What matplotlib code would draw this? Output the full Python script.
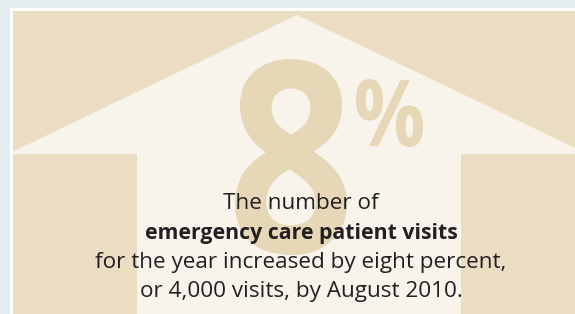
import matplotlib
matplotlib.use("Agg")
import matplotlib.pyplot as plt
from matplotlib.patches import Rectangle, Polygon, PathPatch
from matplotlib.textpath import TextPath
from matplotlib.font_manager import FontProperties
from matplotlib.transforms import Affine2D

# ---- content ----
big_value = "8"
big_unit = "%"
lines = ["The number of",
         "emergency care patient visits",
         "for the year increased by eight percent,",
         "or 4,000 visits, by August 2010."]
line_bold = [False, True, False, False]

# ---- layout (pixels, y down) ----
W, H = 575, 314
arrow_pts = [(297, 15), (588, 154), (461, 154), (461, 330),
             (137, 330), (137, 154), (8, 154)]
baselines = [209, 239, 268, 297]
text_cx = 301
value_box = (235, 59, 347, 255)   # x0, y0, x1, y1
unit_box = (356, 79, 423, 147)

bg = "#e3edf0"
tan = "#eaddc2"
cream = "#f8f4ec"
num_col = "#e6d7b6"
ink = "#231f20"

fig = plt.figure(figsize=(W / 100, H / 100), dpi=100, facecolor=bg)
ax = fig.add_axes([0, 0, 1, 1])
ax.set_xlim(0, W)
ax.set_ylim(H, 0)
ax.axis("off")

ax.add_patch(Rectangle((10, 8), W, H, facecolor="white", edgecolor="none"))
panel = Rectangle((12.5, 10.5), W, H, facecolor=tan, edgecolor="none")
ax.add_patch(panel)
arrow = Polygon(arrow_pts, closed=True, facecolor=cream, edgecolor="none")
ax.add_patch(arrow)
arrow.set_clip_path(panel)


def fitted_glyph(s, box, color, weight="bold"):
    fp = FontProperties(family="Open Sans", weight=weight)
    tp = TextPath((0, 0), s, size=100, prop=fp)
    ext = tp.get_extents()
    x0, y0, x1, y1 = box
    sx = (x1 - x0) / ext.width
    sy = (y1 - y0) / ext.height
    tr = (Affine2D().translate(-ext.x0, -ext.y1)
          .scale(sx, -sy).translate(x0, y0))
    path = tr.transform_path(tp)
    ax.add_patch(PathPatch(path, facecolor=color, edgecolor="none"))


fitted_glyph(big_value, value_box, num_col)
fitted_glyph(big_unit, unit_box, num_col)

for txt, yb, b in zip(lines, baselines, line_bold):
    ax.text(text_cx, yb, txt, ha="center", va="baseline",
            fontsize=15.3 if b else 16.2, family="Open Sans",
            fontweight="bold" if b else "normal", color=ink)

fig.savefig("out.png", dpi=100, facecolor=bg)
